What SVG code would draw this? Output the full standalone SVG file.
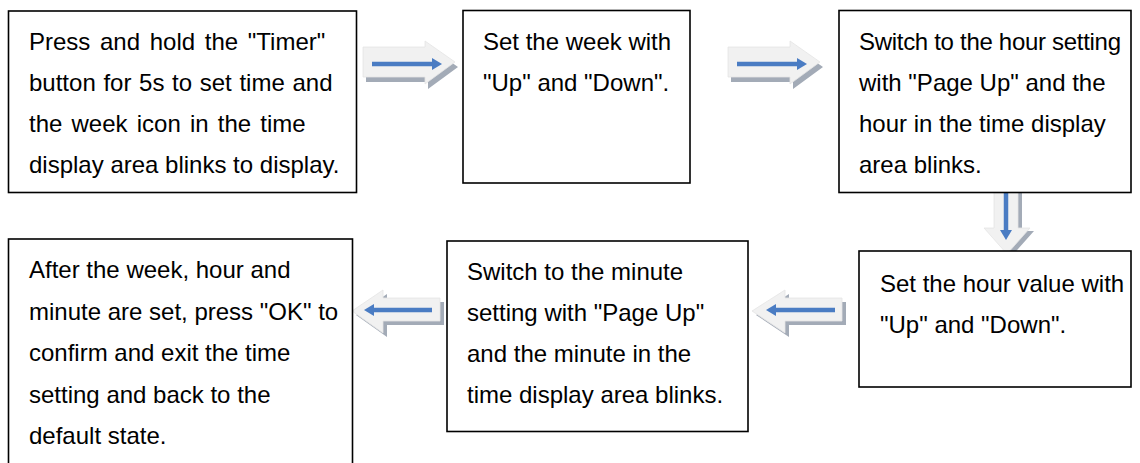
<svg xmlns="http://www.w3.org/2000/svg" width="1140" height="463" viewBox="0 0 1140 463">
<style>
.box{fill:#fff;stroke:#000;stroke-width:1.6}
.t{font-family:"Liberation Sans",Arial,sans-serif;font-size:24px;fill:#000}
.lt{fill:#f1f1f1;stroke:#e4e4e4;stroke-width:0.8}
.sh{fill:#a3abb7}
.bl{stroke:#4a7cc3;stroke-width:4.5;fill:none}
.bh{fill:#4a7cc3}
</style>
<rect width="1140" height="463" fill="#fff"/>
<g id="connectors">
  <g id="a1">
    <polygon class="sh" points="366,52 428,52 428,46 458,67 428,89 428,82 366,82"/>
    <polygon class="lt" points="363,47 425,47 425,41 455,62 425,84 425,77 363,77"/>
    <line class="bl" x1="372" y1="64" x2="434" y2="64"/>
    <polygon class="bh" points="432,58 442,64 432,70"/>
  </g>
  <g id="a2">
    <polygon class="sh" points="731,52 793,52 793,46 823,67 793,89 793,82 731,82"/>
    <polygon class="lt" points="728,47 790,47 790,41 820,62 790,84 790,77 728,77"/>
    <line class="bl" x1="737" y1="64" x2="799" y2="64"/>
    <polygon class="bh" points="797,58 807,64 797,70"/>
  </g>
  <g id="a3">
    <polygon class="sh" points="998,193 1022,193 1022,231 1034,231 1011,257 988,231 998,231"/>
    <polygon class="lt" points="994,192 1018,192 1018,228 1030,228 1007,254 984,228 994,228"/>
    <line class="bl" x1="1006" y1="193" x2="1006" y2="232"/>
    <polygon class="bh" points="1000,230 1006,240 1012,230"/>
  </g>
  <g id="a4">
    <polygon class="sh" points="846,302 789,302 789,294 756,315 789,337 789,325 846,325"/>
    <polygon class="lt" points="842,298 785,298 785,290 752,311 785,333 785,321 842,321"/>
    <line class="bl" x1="835" y1="310" x2="774" y2="310"/>
    <polygon class="bh" points="776,304 766,310 776,316"/>
  </g>
  <g id="a5">
    <polygon class="sh" points="444,302 387,302 387,294 356,315 387,337 387,325 444,325"/>
    <polygon class="lt" points="440,298 383,298 383,290 352,311 383,333 383,321 440,321"/>
    <line class="bl" x1="432" y1="310" x2="372" y2="310"/>
    <polygon class="bh" points="374,304 364,310 374,316"/>
  </g>
</g>
<g id="n1">
  <rect class="box" x="8.5" y="11" width="348" height="181.5"/>
  <text class="t" x="29" y="50" word-spacing="3">Press and hold the "Timer"</text>
  <text class="t" x="29" y="91" word-spacing="1">button for 5s to set time and</text>
  <text class="t" x="29" y="132" word-spacing="2.5">the week icon in the time</text>
  <text class="t" x="29" y="173">display area blinks to display.</text>
</g>
<g id="n2">
  <rect class="box" x="463" y="10.5" width="227" height="172.5"/>
  <text class="t" x="483" y="50">Set the week with</text>
  <text class="t" x="483" y="91">"Up" and "Down".</text>
</g>
<g id="n3">
  <rect class="box" x="839" y="10.5" width="292" height="182"/>
  <text class="t" x="859" y="50" letter-spacing="-0.3">Switch to the hour setting</text>
  <text class="t" x="859" y="91">with "Page Up" and the</text>
  <text class="t" x="859" y="132">hour in the time display</text>
  <text class="t" x="859" y="173">area blinks.</text>
</g>
<g id="n4">
  <rect class="box" x="859" y="251" width="272" height="136"/>
  <text class="t" x="880" y="292">Set the hour value with</text>
  <text class="t" x="880" y="333">"Up" and "Down".</text>
</g>
<g id="n5">
  <rect class="box" x="447" y="241" width="301" height="190.5"/>
  <text class="t" x="467" y="280">Switch to the minute</text>
  <text class="t" x="467" y="321">setting with "Page Up"</text>
  <text class="t" x="467" y="362">and the minute in the</text>
  <text class="t" x="467" y="403">time display area blinks.</text>
</g>
<g id="n6">
  <rect class="box" x="8.5" y="239" width="344" height="235"/>
  <text class="t" x="29" y="278">After the week, hour and</text>
  <text class="t" x="29" y="320">minute are set, press "OK" to</text>
  <text class="t" x="29" y="361">confirm and exit the time</text>
  <text class="t" x="29" y="403">setting and back to the</text>
  <text class="t" x="29" y="444">default state.</text>
</g>
</svg>
